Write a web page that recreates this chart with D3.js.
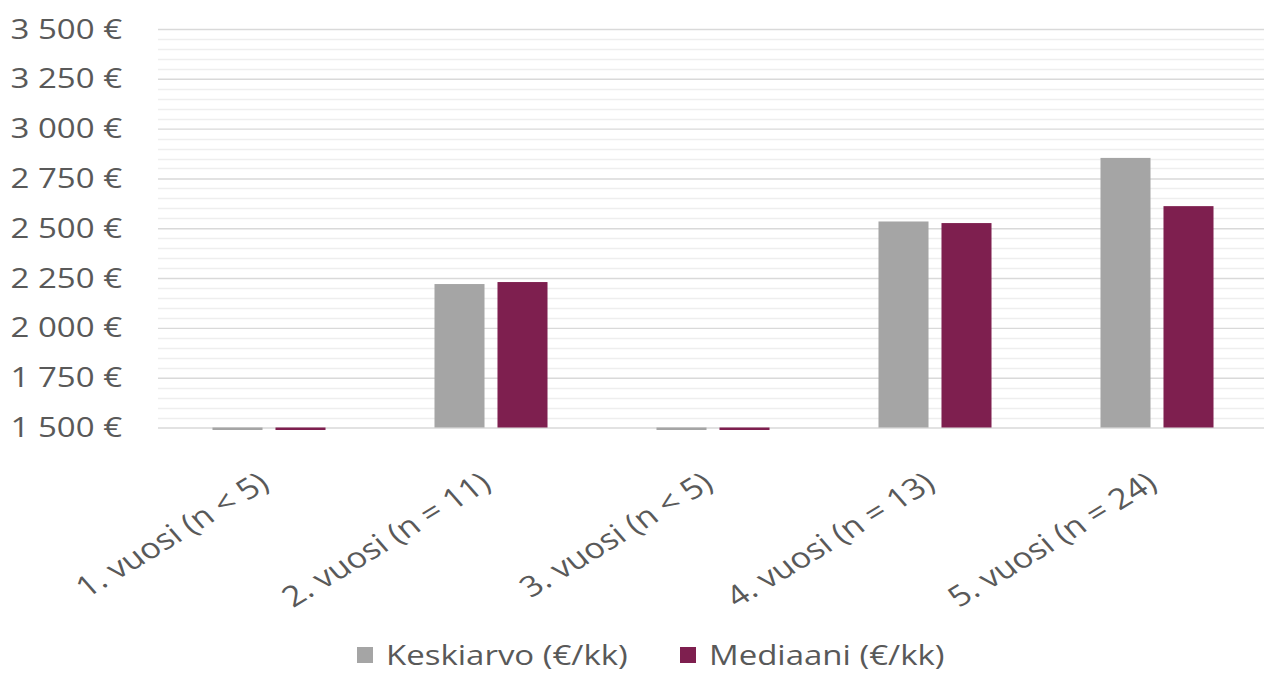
<!DOCTYPE html>
<html>
<head>
<meta charset="utf-8">
<script src="https://cdn.jsdelivr.net/npm/d3@7"></script>
<style>
  html, body { margin: 0; padding: 0; background: #fff; }
  svg { display: block; }
  text { font-family: "Open Sans", "Noto Sans", sans-serif; fill: #595959; }
</style>
</head>
<body>
<svg id="chart" width="1264" height="673"></svg>
<script>
// ---- data ----
const categories = ["1. vuosi (n < 5)", "2. vuosi (n = 11)", "3. vuosi (n < 5)", "4. vuosi (n = 13)", "5. vuosi (n = 24)"];
const seriesNames = ["Keskiarvo (€/kk)", "Mediaani (€/kk)"];
const keskiarvo = [0, 2220, 0, 2534, 2853];
const mediaani  = [0, 2230, 0, 2526, 2611];
const yTicks = [1500, 1750, 2000, 2250, 2500, 2750, 3000, 3250, 3500];
const yMin = 1500, yMax = 3500, minorStep = 50;

// ---- layout / style ----
const colors = ["#a5a5a5", "#7e1f4f"];
const W = 1264, H = 673;
const plot = { left: 158, right: 1268, top: 29, bottom: 427.5 };
const fontSize = 27.5, xFontSize = 28.5, sx = 1.2;

const svg = d3.select("#chart");
const x0 = d3.scaleBand().domain(categories).range([plot.left, plot.right]).paddingInner(0).paddingOuter(0);
const x1 = d3.scaleBand().domain(seriesNames).range([0, x0.bandwidth()]).paddingInner(0.206).paddingOuter(0.865);
const y = d3.scaleLinear().domain([yMin, yMax]).range([plot.bottom, plot.top]);
const color = d3.scaleOrdinal().domain(seriesNames).range(colors);

const fiLocale = d3.formatLocale({ decimal: ",", thousands: "\u00a0", grouping: [3], currency: ["", "\u00a0€"] });
const fmt = fiLocale.format("$,.0f");

// minor gridlines
const minor = d3.range(yMin, yMax + 1, minorStep).filter(v => !yTicks.includes(v));
svg.append("g").selectAll("line").data(minor).join("line")
  .attr("x1", plot.left).attr("x2", W)
  .attr("y1", d => Math.round(y(d)) + 0.5).attr("y2", d => Math.round(y(d)) + 0.5)
  .attr("stroke", "#eeeeee").attr("stroke-width", 1.4);

// major gridlines via axis
const yAxis = d3.axisLeft(y).tickValues(yTicks).tickSize(-(W - plot.left)).tickFormat("");
const gy = svg.append("g").attr("transform", `translate(${plot.left},0)`).call(yAxis);
gy.select(".domain").remove();
gy.selectAll(".tick line").attr("stroke", "#d9d9d9").attr("stroke-width", 1.4);

// y labels
svg.append("g").selectAll("text").data(yTicks).join("text")
  .attr("transform", d => `translate(122,${y(d) + 9.5}) scale(${sx},1)`)
  .attr("text-anchor", "end")
  .style("font-size", fontSize + "px")
  .text(d => fmt(d));

// bars
const rows = categories.map((c, i) => ({ cat: c, vals: [keskiarvo[i], mediaani[i]] }));
const groups = svg.append("g").selectAll("g").data(rows).join("g")
  .attr("transform", d => `translate(${x0(d.cat)},0)`);
groups.selectAll("rect").data(d => d.vals.map((v, j) => ({ key: seriesNames[j], v })))
  .join("rect")
  .attr("x", d => x1(d.key))
  .attr("width", x1.bandwidth())
  .attr("y", d => d.v < yMin ? y(yMin) : y(d.v))
  .attr("height", d => d.v < yMin ? 2.5 : y(yMin) - y(d.v))
  .attr("fill", d => color(d.key));

// x labels
svg.append("g").selectAll("text").data(categories).join("text")
  .attr("transform", d => `translate(${x0(d) + x0.bandwidth() / 2 + 2},487) scale(${sx},1) rotate(-36)`)
  .attr("text-anchor", "end")
  .style("font-size", xFontSize + "px")
  .text(d => d);

// legend
const legX = [357, 680];
const leg = svg.append("g").selectAll("g").data(seriesNames).join("g")
  .attr("transform", (d, i) => `translate(${legX[i]},647)`);
leg.append("rect").attr("width", 16).attr("height", 16).attr("fill", d => color(d));
leg.append("text")
  .attr("transform", `translate(29,18) scale(${sx},1)`)
  .style("font-size", fontSize + "px")
  .text(d => d);
</script>
</body>
</html>
